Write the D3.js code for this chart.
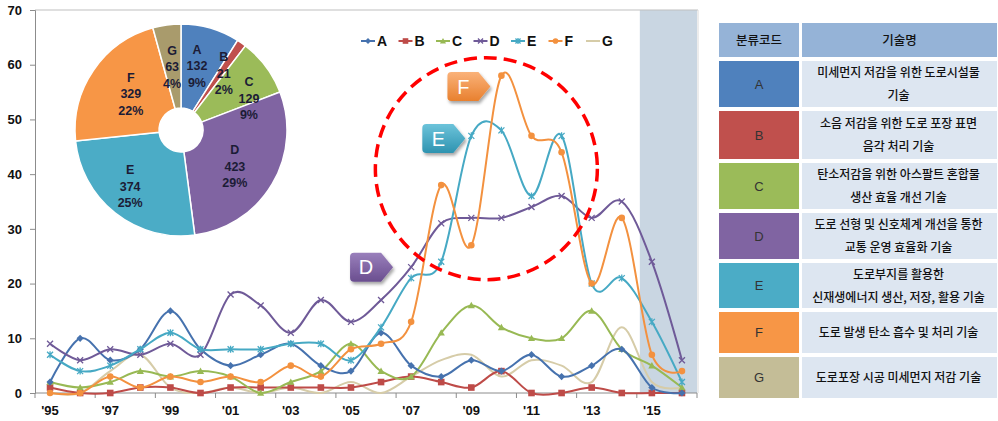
<!DOCTYPE html>
<html>
<head>
<meta charset="utf-8">
<script src="https://cdn.jsdelivr.net/npm/d3@7"></script>
<style>
  html, body { margin: 0; padding: 0; background: #ffffff; }
  svg { display: block; }
</style>
</head>
<body>
<svg id="chart" width="998" height="421"></svg>
<script>
// ---------------- DATA ----------------
const years = [1995,1996,1997,1998,1999,2000,2001,2002,2003,2004,2005,2006,2007,2008,2009,2010,2011,2012,2013,2014,2015,2016];
const xTickLabels = ["'95","'97","'99","'01","'03","'05","'07","'09","'11","'13","'15"];
const yTicks = [0,10,20,30,40,50,60,70];
const seriesNames = ["A","B","C","D","E","F","G"];
const valuesA = [2,10,6,8,15,8,5,7,9,5,4,11,5,3,6,4,7,3,5,8,1,0];
const valuesB = [1,0,0,1,1,0,1,1,1,1,1,2,3,2,1,4,0,0,1,0,0,0];
const valuesC = [2,1,2,4,3,4,3,0,2,4,9,4,3,11,16,12,10,10,15,8,5,1];
const valuesD = [9,6,8,7,9,7,18,16,11,17,13,17,23,31,32,32,34,36,32,35,24,6];
const valuesE = [7,4,5,8,11,8,8,8,9,9,6,12,21,24,47,48,36,47,20,21,13,2];
const valuesF = [0,0,3,1,3,2,3,2,5,3,8,9,13,38,27,58,47,44,20,32,7,4];
const valuesG = [0,0,4,7,1,0,1,0,1,0,2,0,3,6,7,3,6,5,2,12,2,1];
const pieTotals = [132,21,129,423,374,329,63];
const piePctLabels = ["9%","2%","9%","29%","25%","22%","4%"];
const tableHeader = ["분류코드","기술명"];
const tableDesc = [
  ["미세먼지 저감을 위한 도로시설물","기술"],
  ["소음 저감을 위한 도로 포장 표면","음각 처리 기술"],
  ["탄소저감을 위한 아스팔트 혼합물","생산 효율 개선 기술"],
  ["도로 선형 및 신호체계 개선을 통한","교통 운영 효율화 기술"],
  ["도로부지를 활용한","신재생에너지 생산, 저장, 활용 기술"],
  ["도로 발생 탄소 흡수 및 처리 기술"],
  ["도로포장 시공 미세먼지 저감 기술"]
];
const forecastStart = 2015;

// ---------------- STYLE ----------------
const lineColors = {A:"#4672AE",B:"#BE4B48",C:"#98B954",D:"#6F5A98",E:"#46A9C4",F:"#F3913F",G:"#D6CCA8"};
const pieColors  = {A:"#4F81BD",B:"#C0504D",C:"#9BBB59",D:"#8064A2",E:"#4BACC6",F:"#F79646",G:"#A99B6C"};
const tableColors= {A:"#4F81BD",B:"#C0504D",C:"#9BBB59",D:"#8064A2",E:"#4BACC6",F:"#F79646",G:"#C4BD97"};
const markers = {A:"diamond",B:"square",C:"triangle",D:"cross",E:"star",F:"circle",G:"none"};
// pie label placement: [radius, angle in degrees clockwise from 12 o'clock]
const pieLabelPolar = {A:[66,14],B:[71,37],C:[75,65],D:[65,124],E:[76,222],F:[62,306],G:[64,352]};
const latin = "'Liberation Sans', Arial, sans-serif";
const kor = "'Noto Sans CJK KR', 'Noto Sans', sans-serif";

const svg = d3.select("#chart");
const defs = svg.append("defs");

const plot = {left:35, right:697, top:10, bottom:393};
const x = d3.scaleBand().domain(years).range([plot.left, plot.right]);
const bw = x.bandwidth();
const cx = d => x(d) + bw/2;
const y = d3.scaleLinear().domain([0,70]).range([plot.bottom, plot.top]);

// shaded forecast region
svg.append("rect")
  .attr("x", x(forecastStart) + bw*0.1).attr("y", plot.top)
  .attr("width", plot.right - x(forecastStart) - bw*0.1).attr("height", plot.bottom - plot.top)
  .attr("fill", "#C9D6E2");

// plot border
svg.append("line").attr("x1", plot.left).attr("x2", plot.right+1).attr("y1", plot.top).attr("y2", plot.top)
  .attr("stroke", "#BFBFBF").attr("stroke-width", 1);
svg.append("line").attr("x1", plot.right+1).attr("x2", plot.right+1).attr("y1", plot.top).attr("y2", plot.bottom)
  .attr("stroke", "#D9D9D9").attr("stroke-width", 1);

// Y axis
const yAxis = svg.append("g").attr("transform", `translate(${plot.left},0)`)
  .call(d3.axisLeft(y).tickValues(yTicks).tickSize(5).tickPadding(8));
yAxis.select(".domain").attr("stroke", "#8C8C8C");
yAxis.selectAll(".tick line").attr("stroke", "#8C8C8C");
yAxis.selectAll("text").attr("font-family", latin).attr("font-weight", "bold").attr("font-size", 13).attr("fill", "#111");

// X axis
const xAxisG = svg.append("g");
xAxisG.append("line").attr("x1", plot.left).attr("x2", plot.right).attr("y1", plot.bottom).attr("y2", plot.bottom)
  .attr("stroke", "#8C8C8C");
const tickYears = years.filter((d,i) => i % 2 === 0);
xAxisG.selectAll("line.tk").data(tickYears).join("line").attr("class","tk")
  .attr("x1", d => x(d)).attr("x2", d => x(d)).attr("y1", plot.bottom).attr("y2", plot.bottom+5)
  .attr("stroke", "#8C8C8C");
xAxisG.append("line").attr("x1", plot.right).attr("x2", plot.right).attr("y1", plot.bottom).attr("y2", plot.bottom+5).attr("stroke","#8C8C8C");
xAxisG.selectAll("text").data(tickYears).join("text")
  .attr("x", d => cx(d)).attr("y", plot.bottom + 22)
  .attr("text-anchor", "middle").attr("font-family", latin).attr("font-weight", "bold").attr("font-size", 13).attr("fill", "#111")
  .text((d,i) => xTickLabels[i]);

// series lines
const seriesVals = {A:valuesA,B:valuesB,C:valuesC,D:valuesD,E:valuesE,F:valuesF,G:valuesG};
const line = d3.line().x((d,i) => cx(years[i])).y(d => y(d)).curve(d3.curveCatmullRom.alpha(0));

function drawMarker(g, type, color, px, py, s) {
  s = s || 1;
  if (type === "diamond") {
    g.append("path").attr("d", `M${px},${py-3.6*s}L${px+3.6*s},${py}L${px},${py+3.6*s}L${px-3.6*s},${py}Z`).attr("fill", color);
  } else if (type === "square") {
    g.append("rect").attr("x", px-3.3*s).attr("y", py-3.3*s).attr("width", 6.6*s).attr("height", 6.6*s).attr("fill", color);
  } else if (type === "triangle") {
    g.append("path").attr("d", `M${px},${py-3.6*s}L${px+3.6*s},${py+2.8*s}L${px-3.6*s},${py+2.8*s}Z`).attr("fill", color);
  } else if (type === "cross") {
    g.append("path").attr("d", `M${px-3*s},${py-3*s}L${px+3*s},${py+3*s}M${px+3*s},${py-3*s}L${px-3*s},${py+3*s}`)
      .attr("stroke", color).attr("stroke-width", 1.3);
  } else if (type === "star") {
    g.append("path").attr("d", `M${px-3*s},${py-3*s}L${px+3*s},${py+3*s}M${px+3*s},${py-3*s}L${px-3*s},${py+3*s}M${px},${py-3.5*s}L${px},${py+3.5*s}`)
      .attr("stroke", color).attr("stroke-width", 1.3);
  } else if (type === "circle") {
    g.append("circle").attr("cx", px).attr("cy", py).attr("r", 3.3*s).attr("fill", color);
  }
}

const drawOrder = ["G","B","C","A","D","E","F"];
drawOrder.forEach(k => {
  const g = svg.append("g");
  g.append("path").attr("d", line(seriesVals[k])).attr("fill", "none")
    .attr("stroke", lineColors[k]).attr("stroke-width", 2);
  seriesVals[k].forEach((v,i) => drawMarker(g, markers[k], lineColors[k], cx(years[i]), y(v)));
});

// legend
const legend = svg.append("g");
const legX = d3.scalePoint().domain(seriesNames).range([361, 586]);
seriesNames.forEach(k => {
  const lx = legX(k), ly = 41;
  legend.append("line").attr("x1", lx).attr("x2", lx+14).attr("y1", ly).attr("y2", ly).attr("stroke", lineColors[k]).attr("stroke-width", 2);
  drawMarker(legend, markers[k], lineColors[k], lx+7, ly, 0.85);
  legend.append("text").attr("x", lx+16).attr("y", ly+5).attr("font-family", latin).attr("font-weight","bold")
    .attr("font-size", 14).attr("fill", "#111").text(k);
});

// red dashed circle annotation
svg.append("circle").attr("cx", x(2010)).attr("cy", y(41)).attr("r", 111)
  .attr("fill", "none").attr("stroke", "#FF0000").attr("stroke-width", 3.5).attr("stroke-dasharray", "13,7");

// callouts
const shadow = defs.append("filter").attr("id", "sh").attr("x", "-30%").attr("y", "-30%").attr("width", "170%").attr("height", "170%");
shadow.append("feDropShadow").attr("dx", 1.5).attr("dy", 2.5).attr("stdDeviation", 1.8).attr("flood-color", "#000").attr("flood-opacity", 0.35);
const callouts = [
  {k:"F", tipX: cx(2010) - 11, v: 56, c1:"#FAB27A", c2:"#E8802E"},
  {k:"E", tipX: cx(2009) - 6, v: 46.5, c1:"#6CC3DA", c2:"#2E93B0"},
  {k:"D", tipX: cx(2006) + 12, v: 23, c1:"#9A80BC", c2:"#6A4E8F"}
];
callouts.forEach(c => {
  const gid = "grad" + c.k;
  const gr = defs.append("linearGradient").attr("id", gid).attr("x1",0).attr("y1",0).attr("x2",0).attr("y2",1);
  gr.append("stop").attr("offset","0%").attr("stop-color", c.c1);
  gr.append("stop").attr("offset","100%").attr("stop-color", c.c2);
  const ty = y(c.v), x1 = c.tipX, x0 = x1 - 43, xb = x1 - 12, h = 29, r = 4;
  const y0 = ty - h/2, y1 = ty + h/2;
  const d = `M${x0+r},${y0}L${xb},${y0}L${x1},${ty}L${xb},${y1}L${x0+r},${y1}Q${x0},${y1} ${x0},${y1-r}L${x0},${y0+r}Q${x0},${y0} ${x0+r},${y0}Z`;
  svg.append("path").attr("d", d).attr("fill", `url(#${gid})`).attr("filter", "url(#sh)");
  svg.append("text").attr("x", x0 + 16).attr("y", ty + 7).attr("text-anchor","middle")
    .attr("font-family", latin).attr("font-size", 20).attr("fill", "#fff").text(c.k);
});

// pie
const pc = {x:181, y:130};
const pie = d3.pie().sort(null).value(d => d.v);
const pieData = pie(seriesNames.map((k,i) => ({k, v: pieTotals[i], pct: piePctLabels[i]})));
const arc = d3.arc().innerRadius(22).outerRadius(106);
const pg = svg.append("g").attr("transform", `translate(${pc.x},${pc.y})`);
pg.selectAll("path").data(pieData).join("path")
  .attr("d", arc).attr("fill", d => pieColors[d.data.k]).attr("stroke", "#fff").attr("stroke-width", 1.5);
pieData.forEach(d => {
  const [rr, deg] = pieLabelPolar[d.data.k];
  const a = deg * Math.PI / 180;
  const lx = rr * Math.sin(a), ly = -rr * Math.cos(a);
  const t = pg.append("text").attr("text-anchor", "middle").attr("font-family", latin)
    .attr("font-weight","bold").attr("font-size", 12.5).attr("fill", "#1C1C36");
  [d.data.k, String(d.data.v), d.data.pct].forEach((s,j) => {
    t.append("tspan").attr("x", lx).attr("y", ly - 12 + j*16.5).text(s);
  });
});

// table
const tbl = svg.append("g");
const col1 = {x:719, w:80}, col2 = {x:802, w:195};
const rowHeights = [34,46,48,46,46,45,41,41];
let yy = 23;
const rows = rowHeights.map(h => { const r = {y:yy, h}; yy += h + 4; return r; });
tbl.append("rect").attr("x", col1.x).attr("y", rows[0].y).attr("width", col1.w).attr("height", rows[0].h).attr("fill", "#95B3D7");
tbl.append("rect").attr("x", col2.x).attr("y", rows[0].y).attr("width", col2.w).attr("height", rows[0].h).attr("fill", "#95B3D7");
tbl.append("text").attr("x", col1.x + col1.w/2).attr("y", rows[0].y + rows[0].h/2 + 4.5).attr("text-anchor","middle")
  .attr("font-family", kor).attr("font-weight", 500).attr("font-size", 12.5).attr("fill", "#111").text(tableHeader[0]);
tbl.append("text").attr("x", col2.x + col2.w/2).attr("y", rows[0].y + rows[0].h/2 + 4.5).attr("text-anchor","middle")
  .attr("font-family", kor).attr("font-weight", 500).attr("font-size", 12.5).attr("fill", "#111").text(tableHeader[1]);
seriesNames.forEach((k,i) => {
  const r = rows[i+1];
  tbl.append("rect").attr("x", col1.x).attr("y", r.y).attr("width", col1.w).attr("height", r.h).attr("fill", tableColors[k]);
  tbl.append("rect").attr("x", col2.x).attr("y", r.y).attr("width", col2.w).attr("height", r.h).attr("fill", "#DDE6F1");
  tbl.append("text").attr("x", col1.x + col1.w/2).attr("y", r.y + r.h/2 + 4.5).attr("text-anchor","middle")
    .attr("font-family", latin).attr("font-size", 13).attr("fill", "#333").text(k);
  const lines = tableDesc[i];
  const mid = r.y + r.h/2;
  lines.forEach((s,j) => {
    const ly = lines.length === 1 ? mid : mid + (j === 0 ? -11.5 : 11.5);
    const t = tbl.append("text").attr("x", col2.x + col2.w/2 - 1).attr("y", ly + 4.5).attr("text-anchor","middle")
      .attr("font-family", kor).attr("font-weight", 500).attr("font-size", 12).attr("fill", "#111").text(s);
    const len = t.node().getComputedTextLength();
    if (len > 191) t.attr("textLength", 191).attr("lengthAdjust", "spacingAndGlyphs");
  });
});
</script>
</body>
</html>
